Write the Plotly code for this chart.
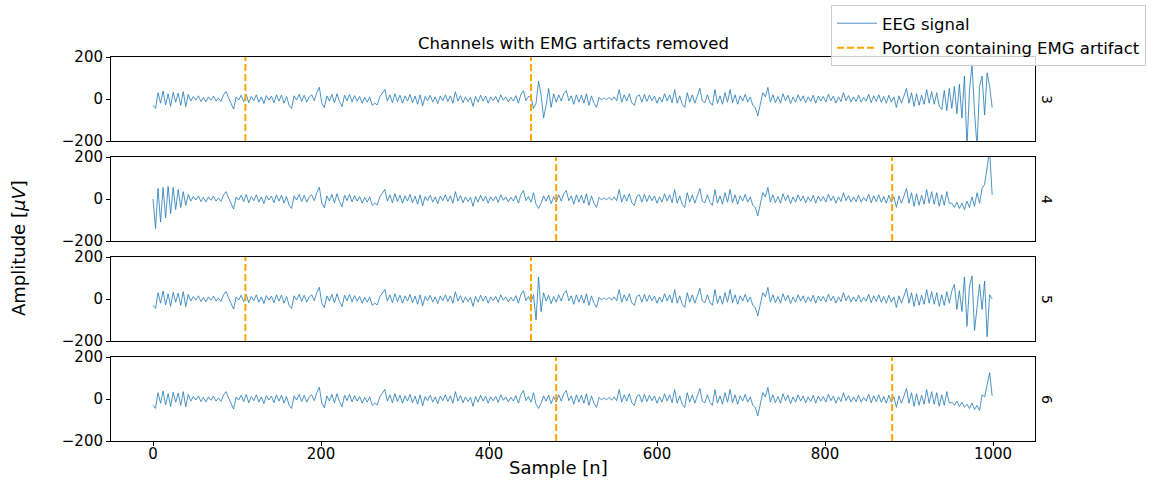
import plotly.graph_objects as go
from plotly.subplots import make_subplots

# Sample axis (every 3rd sample, 0..999)
SAMPLES = list(range(0, 1000, 3))

# Shared EEG background (same in all four channels)
BACKGROUND = [
    -30, -45, 30, -20, 38, -28, 25, -35, 32, -15,
    28, -30, 35, -37, 22, -10, 12, -5, 15, -12,
    8, -14, 10, -6, 14, -10, 5, -12, 20, 35,
    5, -20, -48, 10, -5, 18, -12, 22, -18, 12,
    -8, 20, -15, 10, -22, 16, -5, 14, -18, 20,
    -10, 18, -20, 12, -30, -45, 15, -5, 22, -12,
    18, -15, 10, 20, -8, 30, 56, -20, -41, 15,
    -10, 22, -18, 25, -12, -37, 18, -8, 22, -14,
    16, -10, 12, -20, 8, -15, 10, -30, -20, -28,
    10, 28, 46, -10, 20, -18, 25, -12, 18, -20,
    15, -10, 22, -18, 14, -25, 20, -32, 12, -8,
    18, -15, 10, -22, 14, -8, 20, -12, 15, -20,
    35, -10, 16, -18, 10, -12, 8, -35, 12, -15,
    18, -10, 14, -20, 10, -8, 12, -16, 20, -6,
    10, -14, 8, -10, 16, -20, 22, 40, -8, 12,
    -15, 20, -25, 10, -20, 15, -10, 18, -22, 12,
    -15, 20, -10, 25, 40, -8, 15, -25, 20, -15,
    18, -20, 25, -30, 15, -20, -40, 8, -5, 6,
    -4, 8, -6, 10, -8, 45, -15, 20, -10, 25,
    -18, -30, 12, 20, -15, 22, -12, 18, -8, 14,
    -20, 10, -15, 25, -10, 20, -18, 45, -20, 15,
    -25, -40, 30, -15, 20, -20, 12, 50, -10, -18,
    20, -15, -30, 45, -20, 15, -25, 30, -15, 45,
    -18, 20, -25, 15, -10, 22, -15, 10, -30, -40,
    -80, -20, 30, 10, 55, -15, 20, -18, 12, -20,
    25, -8, 18, -22, 10, -15, 20, -10, 15, -18,
    10, -12, 18, -20, 14, -10, 12, -15, 22, -8,
    14, -20, 10, -12, 30, -8, 16, -14, 10, -12,
    18, -15, 8, -10, 22, -18, 15, -12, 20, -16,
    12, -20, 18, -15, 10, -40, 15, -20, 20, 50,
    -20, 30, -35, 25, -30, 18, -25, 45, -20, 35,
    -25, 30, -35, 20, -30, 35, -20, 25, -25, 30,
    -15, 20, -20, 15, -10, 20, -15, 10, -12, 15,
    -10, 8, -5, 0,
]

# Channel-specific segments (sample -> amplitude)
CH3_SEGMENTS = {
    450: 10, 453: -45, 456: -20, 459: 85, 462: 20, 465: -90, 468: -30, 471: 50, 474: -40, 477: 25,
    939: -50, 942: 40, 945: -55, 948: 50, 951: -45, 954: 60, 957: -70, 960: 70, 963: -90,
    966: 110, 969: -230, 972: 40, 975: 165, 978: -60, 981: -230, 984: 60, 987: 110,
    990: -76, 993: 125, 996: 60, 999: -40,
}
CH4_SEGMENTS = {
    0: 0, 3: -140, 6: 50, 9: -110, 12: 55, 15: -90, 18: 60, 21: -70, 24: 55, 27: -50,
    30: 45, 33: -40, 36: 35, 39: -30,
    453: 30, 459: -45,
    951: -20, 954: -40, 957: -15, 960: -45, 963: -20, 966: -50, 969: -10, 972: -40,
    975: 10, 978: -35, 981: 30, 984: -20, 987: 50, 990: 70, 993: 160, 996: 230, 999: 20,
}
CH5_SEGMENTS = {
    453: 20, 456: -100, 459: 105, 462: -60, 465: 30,
    951: 40, 954: 70, 957: -50, 960: 40, 963: -60, 966: 105, 969: -130, 972: 60,
    975: 110, 978: -150, 981: -40, 984: 70, 987: -50, 990: 85, 993: -180, 996: 20, 999: 0,
}
CH6_SEGMENTS = {
    453: 30, 459: -45,
    951: -15, 954: -30, 957: -10, 960: -35, 963: -15, 966: -40, 969: -25, 972: -45,
    975: -20, 978: -50, 981: -30, 984: -55, 987: 20, 990: 10, 993: 60, 996: 125, 999: 15,
}

CHANNEL_NAMES = ["3", "4", "5", "6"]
CHANNEL_SEGMENTS = [CH3_SEGMENTS, CH4_SEGMENTS, CH5_SEGMENTS, CH6_SEGMENTS]
ARTIFACT_MARKS = [[110, 450], [480, 880], [110, 450], [480, 880]]
X_TICKS = [0, 200, 400, 600, 800, 1000]
Y_TICKS = [-200, 0, 200]
Y_RANGE = [-200, 200]


def channel_values(segments):
    vals = list(BACKGROUND)
    for s, v in segments.items():
        vals[SAMPLES.index(s)] = v
    return vals


FONT = "DejaVu Sans"
fig = make_subplots(rows=4, cols=1, shared_xaxes=True, vertical_spacing=16 / 384)

eeg_shown = False
art_shown = False
for r, (segs, marks) in enumerate(zip(CHANNEL_SEGMENTS, ARTIFACT_MARKS), start=1):
    fig.add_trace(go.Scatter(
        x=SAMPLES, y=channel_values(segs), mode="lines",
        line=dict(color="#1f77b4", width=0.8),
        name="EEG signal", legendgroup="eeg", showlegend=not eeg_shown,
    ), row=r, col=1)
    eeg_shown = True
    for m in marks:
        fig.add_trace(go.Scatter(
            x=[m, m], y=Y_RANGE, mode="lines",
            line=dict(color="#ffa500", width=2, dash="7px,3px"),
            name="Portion containing EMG artifact", legendgroup="emg",
            showlegend=not art_shown,
        ), row=r, col=1)
        art_shown = True

for r in range(1, 5):
    fig.update_xaxes(
        range=[-50, 1050], tickvals=X_TICKS, showgrid=False, zeroline=False,
        showline=True, mirror=True, linecolor="black", linewidth=1,
        ticks="outside" if r == 4 else "", ticklen=4, tickcolor="black",
        ticklabelstandoff=-5,
        tickfont=dict(family=FONT, size=15, color="black"),
        row=r, col=1,
    )
    fig.update_yaxes(
        range=Y_RANGE, tickvals=Y_TICKS, showgrid=False, zeroline=False,
        showline=True, mirror=True, linecolor="black", linewidth=1,
        ticks="outside", ticklen=4, tickcolor="black",
        tickfont=dict(family=FONT, size=15, color="black"),
        row=r, col=1,
    )

annotations = [
    dict(text="Channels with EMG artifacts removed", x=0.5, y=1.034, xref="paper", yref="paper",
         showarrow=False, xanchor="center", yanchor="middle",
         font=dict(family=FONT, size=16.5, color="black")),
    dict(text="Sample [n]", x=0.4848, y=-0.0703, xref="paper", yref="paper",
         showarrow=False, xanchor="center", yanchor="middle",
         font=dict(family=FONT, size=18, color="black")),
    dict(text="Amplitude [<i>μV</i>]", x=-0.1006, y=0.5026, xref="paper", yref="paper",
         showarrow=False, xanchor="center", yanchor="middle", textangle=-90,
         font=dict(family=FONT, size=18, color="black")),
]
row_centers = [0.8906, 0.6302, 0.3698, 0.1094]
for name, yc in zip(CHANNEL_NAMES, row_centers):
    annotations.append(dict(text=name, x=1.013, y=yc, xref="paper", yref="paper",
                            showarrow=False, xanchor="center", yanchor="middle", textangle=90,
                            font=dict(family=FONT, size=14, color="black")))

fig.update_layout(
    width=1154, height=484,
    margin=dict(l=111, r=119, t=57, b=43, autoexpand=False),
    paper_bgcolor="white", plot_bgcolor="white",
    annotations=annotations,
    legend=dict(xref="container", yref="container", x=1146 / 1154, y=1 - 5 / 484,
                xanchor="right", yanchor="top",
                bgcolor="rgba(255,255,255,0.8)", bordercolor="#cccccc", borderwidth=1,
                font=dict(family=FONT, size=16.5, color="black"),
                tracegroupgap=0, itemwidth=40),
    showlegend=True,
)

fig.write_html("out.html")
